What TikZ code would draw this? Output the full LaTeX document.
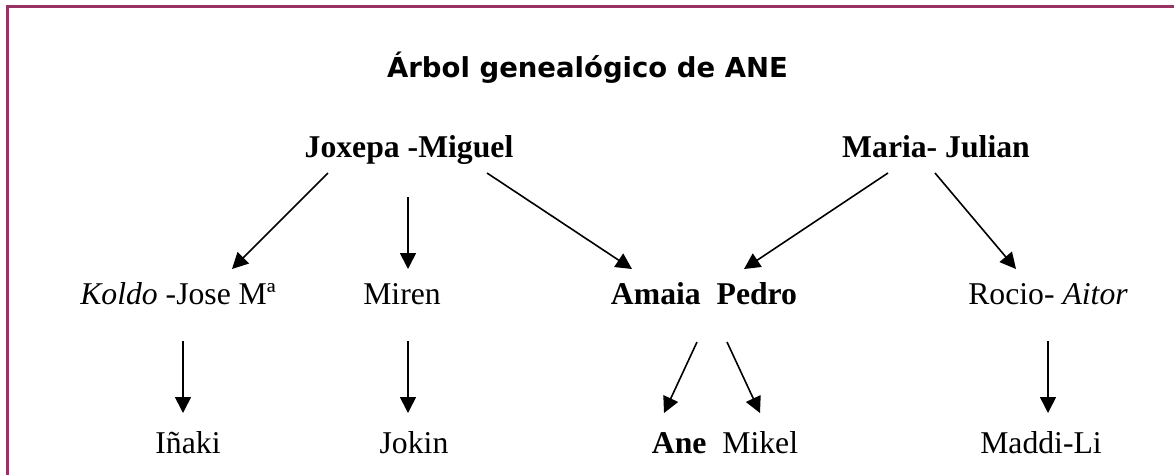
\documentclass[tikz,border=0pt]{standalone}
\usepackage{fontspec}
\setmainfont{Liberation Serif}
\newfontfamily\titlefont{DejaVu Sans}
\usetikzlibrary{arrows.meta}
\definecolor{framec}{RGB}{153,51,102}
\begin{document}
\begin{tikzpicture}[x=1pt,y=-1pt,
  lbl/.style={inner sep=0pt, anchor=base, font=\fontsize{31.7}{34}\selectfont},
  ttl/.style={inner sep=0pt, anchor=base, font=\titlefont\bfseries\fontsize{27.5}{30}\selectfont},
  arr/.style={line width=1.6pt, -{Triangle[length=16pt,width=16pt]}},
  frame/.style={draw=framec, line width=2.5pt}
]
\useasboundingbox (0,0) rectangle (1174,475);
\draw[frame] (7.5,475) -- (7.5,6.5) -- (1174,6.5);

\node[ttl] (title) at (587.5,77) {Árbol genealógico de ANE};

\node[lbl] (jm) at (409,157) {\bfseries Joxepa -Miguel};
\node[lbl] (mj) at (936,157) {\bfseries Maria- Julian};

\node[lbl] (koldo) at (178,304) {\itshape Koldo\upshape{} -Jose Mª};
\node[lbl] (miren) at (402,304) {Miren};
\node[lbl] (ap) at (704,304) {\bfseries Amaia\ \ Pedro};
\node[lbl] (rocio) at (1048,304) {Rocio- \itshape Aitor};

\node[lbl] (inaki) at (188,453) {Iñaki};
\node[lbl] (jokin) at (414,453) {Jokin};
\node[lbl] (ane) at (725,453) {\textbf{Ane}\ \ Mikel};
\node[lbl] (maddi) at (1041,453) {Maddi-Li};

\draw[arr] ([shift={(-81,16)}]jm.base) -- ([shift={(54,-35)}]koldo.base);
\draw[arr] ([shift={(-1,40)}]jm.base) -- ([shift={(6,-35)}]miren.base);
\draw[arr] ([shift={(78,16)}]jm.base) -- ([shift={(-72,-35)}]ap.base);
\draw[arr] ([shift={(-48,16)}]mj.base) -- ([shift={(40,-35)}]ap.base);
\draw[arr] ([shift={(-1,16)}]mj.base) -- ([shift={(-32,-35)}]rocio.base);

\draw[arr] ([shift={(5,37)}]koldo.base) -- ([shift={(-5,-40)}]inaki.base);
\draw[arr] ([shift={(6,37)}]miren.base) -- ([shift={(-6,-40)}]jokin.base);
\draw[arr] ([shift={(-7,38)}]ap.base) -- ([shift={(-61,-40)}]ane.base);
\draw[arr] ([shift={(23,38)}]ap.base) -- ([shift={(35,-40)}]ane.base);
\draw[arr] ([shift={(0,37)}]rocio.base) -- ([shift={(7,-40)}]maddi.base);
\end{tikzpicture}
\end{document}
